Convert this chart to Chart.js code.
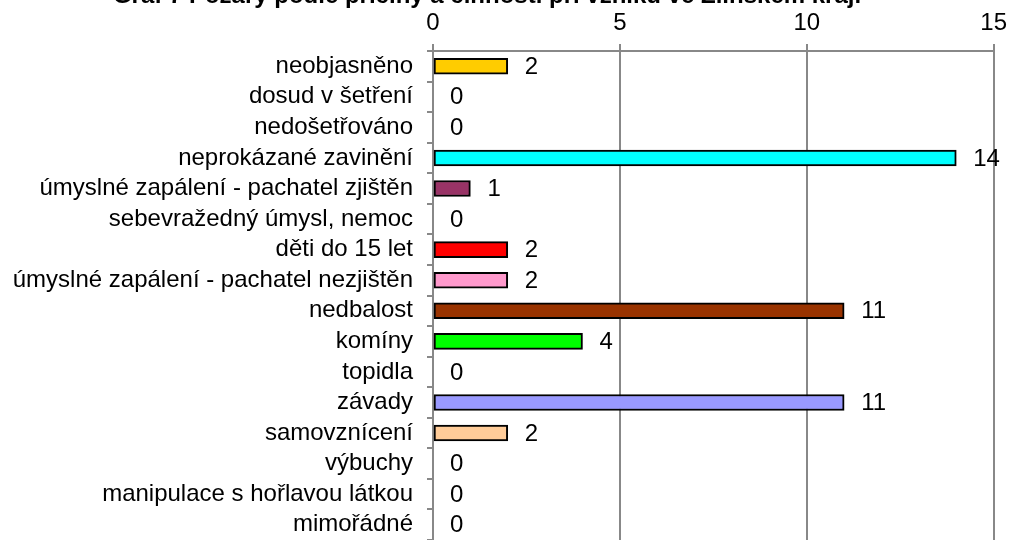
<!DOCTYPE html>
<html>
<head>
<meta charset="utf-8">
<script src="https://cdn.jsdelivr.net/npm/chart.js@4/dist/chart.umd.min.js"></script>
<style>
    html, body { margin: 0; padding: 0; background: #fff; }
    #wrap { position: relative; width: 1013px; height: 540px; overflow: hidden; }
</style>
</head>
<body>
<div id="wrap"><canvas id="chart" width="1013" height="540"></canvas></div>
<script>
const titleText = 'Graf 7 Požáry podle příčiny a činnosti při vzniku ve Zlínském kraji';

const categories = [
    'neobjasněno',
    'dosud v šetření',
    'nedošetřováno',
    'neprokázané zavinění',
    'úmyslné zapálení - pachatel zjištěn',
    'sebevražedný úmysl, nemoc',
    'děti do 15 let',
    'úmyslné zapálení - pachatel nezjištěn',
    'nedbalost',
    'komíny',
    'topidla',
    'závady',
    'samovznícení',
    'výbuchy',
    'manipulace s hořlavou látkou',
    'mimořádné'
];

const values = [2, 0, 0, 14, 1, 0, 2, 2, 11, 4, 0, 11, 2, 0, 0, 0];

const barColors = [
    '#FFCC00', '#FFFFFF', '#FFFFFF', '#00FFFF', '#993366', '#FFFFFF',
    '#FF0000', '#FF99CC', '#993300', '#00FF00', '#FFFFFF', '#9999FF',
    '#FFCC99', '#FFFFFF', '#FFFFFF', '#FFFFFF'
];

const xMin = 0;
const xMax = 15;
const xStep = 5;

const FONT = 'Liberation Sans, Arial, sans-serif';
const FONT_SIZE = 24;
const gridColor = '#888888';

// popisky hodnot za koncem sloupce
const valueLabels = {
    id: 'valueLabels',
    afterDatasetsDraw(chart) {
        const ctx = chart.ctx;
        const meta = chart.getDatasetMeta(0);
        ctx.save();
        ctx.font = FONT_SIZE + 'px ' + FONT;
        ctx.fillStyle = '#000';
        ctx.textAlign = 'left';
        ctx.textBaseline = 'middle';
        meta.data.forEach((bar, i) => {
            ctx.fillText(String(values[i]), bar.x + 17, bar.y + 1);
        });
        ctx.restore();
    }
};

// horní hrana grafu (osa x nahoře) + oříznutý titulek
const frameAndTitle = {
    id: 'frameAndTitle',
    afterDraw(chart) {
        const { ctx, chartArea } = chart;
        const y = Math.round(chartArea.top);
        ctx.save();
        ctx.strokeStyle = gridColor;
        ctx.lineWidth = 2;
        ctx.beginPath();
        ctx.moveTo(chartArea.left - 6, y);
        ctx.lineTo(chartArea.right + 1, y);
        ctx.stroke();

        ctx.font = 'bold ' + FONT_SIZE + 'px ' + FONT;
        ctx.fillStyle = '#000';
        ctx.textAlign = 'center';
        ctx.textBaseline = 'alphabetic';
        ctx.fillText(titleText, 487, 3);
        ctx.restore();
    }
};

new Chart(document.getElementById('chart').getContext('2d'), {
    type: 'bar',
    data: {
        labels: categories,
        datasets: [{
            data: values,
            backgroundColor: barColors,
            borderColor: '#000',
            borderWidth: 2,
            borderSkipped: false,
            barThickness: 16
        }]
    },
    options: {
        indexAxis: 'y',
        responsive: false,
        devicePixelRatio: 1,
        animation: false,
        layout: { padding: { left: 0, right: 18, top: 0, bottom: 0 } },
        plugins: {
            legend: { display: false },
            tooltip: { enabled: false },
            title: { display: false }
        },
        scales: {
            x: {
                position: 'top',
                min: xMin,
                max: xMax,
                ticks: {
                    stepSize: xStep,
                    color: '#000',
                    padding: 6,
                    font: { family: FONT, size: FONT_SIZE }
                },
                grid: {
                    color: gridColor,
                    lineWidth: 2,
                    tickLength: 7,
                    drawTicks: true
                },
                border: { display: true, color: gridColor, width: 2 },
                afterFit(scale) { scale.height = 51; }
            },
            y: {
                ticks: {
                    color: '#000',
                    padding: 14,
                    autoSkip: false,
                    font: { family: FONT, size: FONT_SIZE }
                },
                grid: {
                    offset: true,
                    drawOnChartArea: false,
                    color: gridColor,
                    lineWidth: 2,
                    tickLength: 6
                },
                border: { display: true, color: gridColor, width: 2 },
                afterFit(scale) {
                    scale.width = 433;
                    scale.paddingTop = 0;
                    scale.paddingBottom = 0;
                }
            }
        }
    },
    plugins: [valueLabels, frameAndTitle]
});
</script>
</body>
</html>
